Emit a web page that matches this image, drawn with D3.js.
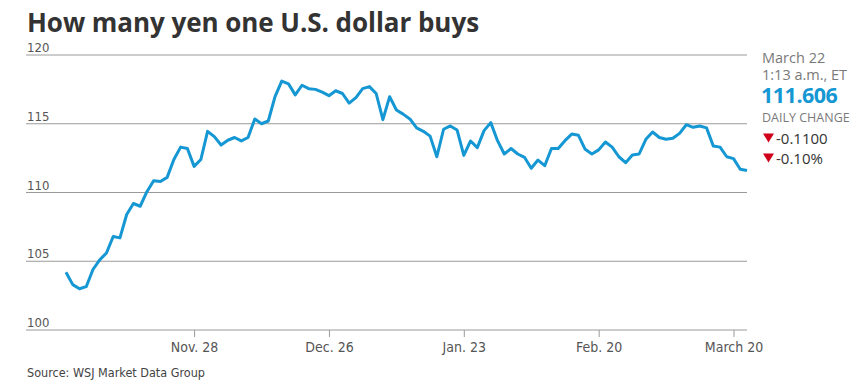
<!DOCTYPE html>
<html lang="en">
<head>
<meta charset="UTF-8">
<script src="https://d3js.org/d3.v7.min.js"></script>
<title>Yen per dollar</title>
<style>
  body { margin: 0; background: #fff; }
  .narrow { font-family: "Liberation Sans Narrow", "DejaVu Sans Condensed", "Roboto", sans-serif; }
  .grid line { stroke: #9a9a9a; stroke-width: 1px; }
</style>
</head>
<body>
<div id="chart"></div>
<script>
// USD/JPY, one point per weekday, Nov 1 2016 - March 22 2017
var values = [
  104.2, 103.3, 103.0, 103.15, 104.4, 105.1, 105.6, 106.8, 106.7, 108.4,
  109.2, 109.0, 110.06, 110.86, 110.8, 111.1, 112.4, 113.3, 113.2, 111.9,
  112.4, 114.45, 114.06, 113.45, 113.8, 114.0, 113.75, 114.0, 115.35, 115.0,
  115.2, 116.97, 118.1, 117.9, 117.1, 117.8, 117.55, 117.5, 117.3, 117.04,
  117.4, 117.2, 116.5, 116.9, 117.55, 117.7, 117.2, 115.3, 116.97, 116.0,
  115.7, 115.35, 114.7, 114.45, 114.1, 112.6, 114.6, 114.84, 114.55, 112.7,
  113.75, 113.26, 114.5, 115.08, 113.77, 112.8, 113.2, 112.8, 112.56, 111.76,
  112.36, 111.95, 113.2, 113.2, 113.77, 114.25, 114.16, 113.14, 112.8, 113.1,
  113.67, 113.3, 112.6, 112.17, 112.73, 112.8, 113.87, 114.4, 114.0, 113.87,
  113.94, 114.3, 114.93, 114.74, 114.84, 114.7, 113.38, 113.3, 112.6, 112.46,
  111.69, 111.606
];
var firstDay = "2016-11-01", lastDay = "2017-03-22";
var yTicks = [100, 105, 110, 115, 120];
var tickDates = ["2016-11-28", "2016-12-26", "2017-01-23", "2017-02-20", "2017-03-20"];
var tickLabels = ["Nov. 28", "Dec. 26", "Jan. 23", "Feb. 20", "March 20"];
var infoLines = ["March 22", "1:13 a.m., ET"];
var lastValue = "111.606";
var changes = ["-0.1100", "-0.10%"];

(function draw() {
  var fmt = d3.timeFormat("%Y-%m-%d"), parse = d3.timeParse("%Y-%m-%d");
  // weekdays between first and last day
  var dates = d3.timeDay.range(parse(firstDay), d3.timeDay.offset(parse(lastDay), 1))
    .filter(function (d) { return d.getDay() !== 0 && d.getDay() !== 6; })
    .map(fmt);
  var data = dates.map(function (d, i) { return { date: d, value: values[i] }; });

  var W = 864, H = 392;
  var mLeft = 26, mRight = 747, mTop = 55, mBottom = 330;

  var svg = d3.select("#chart").append("svg").attr("width", W).attr("height", H);

  var x = d3.scalePoint().domain(dates).range([66, mRight]);
  var y = d3.scaleLinear().domain([100, 120]).range([mBottom, mTop]);

  // title
  svg.append("text")
    .attr("x", 27).attr("y", 32)
    .attr("font-family", "Open Sans, sans-serif")
    .attr("font-weight", 700).attr("font-size", 26)
    .attr("fill", "#333")
    .attr("letter-spacing", -0.05)
    .text("How many yen one U.S. dollar buys");

  // horizontal grid lines
  svg.append("g").attr("class", "grid")
    .selectAll("line").data(yTicks).enter().append("line")
    .attr("x1", mLeft).attr("x2", mRight)
    .attr("y1", function (d) { return y(d); })
    .attr("y2", function (d) { return y(d); });

  svg.append("g").attr("class", "narrow")
    .selectAll("text").data(yTicks).enter().append("text")
    .attr("x", 27).attr("y", function (d) { return y(d) - 3; })
    .attr("font-size", 13).attr("fill", "#555")
    .text(function (d) { return d; });

  // x axis ticks
  var xAxis = d3.axisBottom(x)
    .tickValues(tickDates)
    .tickSize(7)
    .tickPadding(5)
    .tickFormat(function (d, i) { return tickLabels[i]; });

  var gx = svg.append("g")
    .attr("transform", "translate(0," + mBottom + ")")
    .call(xAxis);
  gx.select(".domain").remove();
  gx.selectAll(".tick line").attr("stroke", "#9a9a9a");
  gx.selectAll(".tick text")
    .attr("class", "narrow")
    .attr("font-size", 14).attr("fill", "#555");

  // the line
  var line = d3.line()
    .x(function (d) { return x(d.date); })
    .y(function (d) { return y(d.value); });

  svg.append("path")
    .datum(data)
    .attr("fill", "none")
    .attr("stroke", "#1597d3")
    .attr("stroke-width", 3)
    .attr("stroke-linejoin", "round")
    .attr("d", line);

  // right side panel
  var panel = svg.append("g").attr("font-family", "Open Sans, sans-serif");
  panel.selectAll("text.info").data(infoLines).enter().append("text")
    .attr("class", "info")
    .attr("x", 762).attr("y", function (d, i) { return 63 + i * 17; })
    .attr("font-size", 14.5)
    .attr("fill", "#7a7a7a")
    .text(function (d) { return d; });

  panel.append("text")
    .attr("x", 761).attr("y", 103)
    .attr("font-size", 21.5).attr("font-weight", 700)
    .attr("fill", "#1597d3").attr("letter-spacing", -0.5)
    .text(lastValue);

  panel.append("text")
    .attr("x", 762).attr("y", 122)
    .attr("font-size", 12.5).attr("fill", "#7a7a7a")
    .text("DAILY CHANGE");

  var chg = panel.selectAll("g.chg").data(changes).enter().append("g")
    .attr("class", "chg")
    .attr("transform", function (d, i) { return "translate(762," + (144 + i * 20) + ")"; });
  chg.append("path")
    .attr("d", "M1,-10.5 L12,-10.5 L6.5,-1.5 Z")
    .attr("fill", "#d0021b");
  chg.append("text")
    .attr("x", 14).attr("y", 0)
    .attr("font-size", 15).attr("fill", "#333")
    .text(function (d) { return d; });

  // source
  svg.append("text")
    .attr("class", "narrow")
    .attr("x", 27).attr("y", 377)
    .attr("font-size", 12.5).attr("fill", "#444")
    .text("Source: WSJ Market Data Group");
})();
</script>
</body>
</html>
